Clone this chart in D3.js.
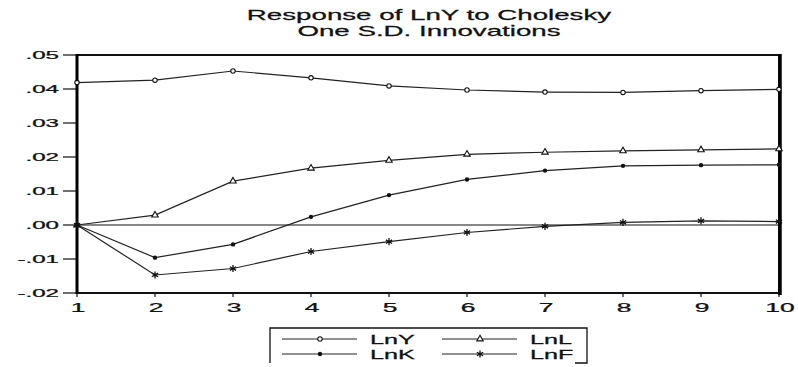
<!DOCTYPE html>
<html>
<head>
<meta charset="utf-8">
<script src="https://cdn.jsdelivr.net/npm/d3@7"></script>
<style>
  body { margin: 0; background: #fff; }
  text { font-family: "Liberation Sans", Arial, sans-serif; fill: #111; stroke: #111; stroke-width: 0.25px; }
</style>
</head>
<body>
<svg id="chart" width="798" height="367"></svg>
<script>
// periods and responses
const periods = [1, 2, 3, 4, 5, 6, 7, 8, 9, 10];
const lnY = [0.0419, 0.0426, 0.0453, 0.0433, 0.0409, 0.0397, 0.0391, 0.0390, 0.0395, 0.0399];
const lnL = [0.0000, 0.0029, 0.0129, 0.0167, 0.0190, 0.0208, 0.0214, 0.0218, 0.0221, 0.0224];
const lnK = [0.0000, -0.0096, -0.0057, 0.0024, 0.0088, 0.0134, 0.0160, 0.0174, 0.0176, 0.0177];
const lnF = [0.0000, -0.0147, -0.0128, -0.0078, -0.0049, -0.0022, -0.0004, 0.0008, 0.0012, 0.0010];
const yTicks = [0.05, 0.04, 0.03, 0.02, 0.01, 0, -0.01, -0.02];
const titleLines = ['Response of LnY to Cholesky', 'One S.D. Innovations'];

const series = [
  {name: 'LnY', values: lnY, marker: 'openCircle'},
  {name: 'LnL', values: lnL, marker: 'triangle'},
  {name: 'LnK', values: lnK, marker: 'dot'},
  {name: 'LnF', values: lnF, marker: 'star'},
];

const svg = d3.select('#chart');
const plot = {left: 77, right: 779, top: 55, bottom: 293};

const x = d3.scaleLinear().domain([1, 10]).range([plot.left, plot.right]);
const y = d3.scaleLinear().domain([-0.02, 0.05]).range([plot.bottom, plot.top]);

// the original has wide, stretched lettering
function stretchedText(g, str, px, py, size, sx, anchor) {
  g.append('g')
    .attr('transform', `translate(${px},${py}) scale(${sx},1)`)
    .append('text')
      .attr('font-size', size)
      .attr('text-anchor', anchor)
      .text(str);
}

titleLines.forEach((t, i) => stretchedText(svg, t, 429, 20 + i * 16, 14, 1.98, 'middle'));

const fmt = v => v === 0 ? '.00' : (v < 0 ? '-' : '') + d3.format('.2f')(Math.abs(v)).replace(/^0/, '');

// y ticks + labels
const yAxis = svg.append('g');
yTicks.forEach(v => {
  yAxis.append('line')
    .attr('x1', plot.left - 14).attr('x2', plot.left)
    .attr('y1', y(v)).attr('y2', y(v))
    .attr('stroke', '#111').attr('stroke-width', 1.2);
  stretchedText(yAxis, fmt(v), plot.left - 18, y(v) + 4, 10.5, 2.3, 'end');
});

// x ticks + labels
const xAxis = svg.append('g');
periods.forEach(p => {
  xAxis.append('line')
    .attr('x1', x(p)).attr('x2', x(p))
    .attr('y1', plot.bottom).attr('y2', plot.bottom + 4)
    .attr('stroke', '#111').attr('stroke-width', 1.2);
  stretchedText(xAxis, String(p), x(p) + 1, plot.bottom + 19, 12, 2.2, 'middle');
});

// zero line
svg.append('line')
  .attr('x1', plot.left).attr('x2', plot.right)
  .attr('y1', y(0)).attr('y2', y(0))
  .attr('stroke', '#111').attr('stroke-width', 1);

// frame
svg.append('rect')
  .attr('x', plot.left).attr('y', plot.top)
  .attr('width', plot.right - plot.left).attr('height', plot.bottom - plot.top)
  .attr('fill', 'none').attr('stroke', '#111').attr('stroke-width', 2);
svg.append('line')
  .attr('x1', plot.left).attr('x2', plot.left)
  .attr('y1', plot.top - 1).attr('y2', plot.bottom + 1)
  .attr('stroke', '#000').attr('stroke-width', 3);
svg.append('line')
  .attr('x1', plot.right + 1).attr('x2', plot.right + 1)
  .attr('y1', plot.top - 1).attr('y2', plot.bottom + 2)
  .attr('stroke', '#000').attr('stroke-width', 3.5);

function drawMarker(g, kind, cx, cy) {
  if (kind === 'openCircle')
    g.append('circle').attr('cx', cx).attr('cy', cy).attr('r', 2.2)
      .attr('fill', '#fff').attr('stroke', '#111').attr('stroke-width', 1.1);
  else if (kind === 'dot')
    g.append('circle').attr('cx', cx).attr('cy', cy).attr('r', 2.2).attr('fill', '#111');
  else if (kind === 'triangle')
    g.append('path').attr('transform', `translate(${cx},${cy})`)
      .attr('d', d3.symbol(d3.symbolTriangle, 18)())
      .attr('fill', '#fff').attr('stroke', '#111').attr('stroke-width', 1.1);
  else
    g.append('path').attr('transform', `translate(${cx},${cy})`)
      .attr('d', d3.symbol(d3.symbolAsterisk, 36)())
      .attr('fill', 'none').attr('stroke', '#111').attr('stroke-width', 1.3);
}

const line = d3.line().x((d, i) => x(periods[i])).y(d => y(d));

series.forEach(s => {
  const g = svg.append('g');
  g.append('path')
    .attr('d', line(s.values))
    .attr('fill', 'none').attr('stroke', '#222').attr('stroke-width', 1.2);
  s.values.forEach((v, i) => drawMarker(g, s.marker, x(periods[i]), y(v)));
});

// legend
const legend = svg.append('g');
const lg = {left: 270, top: 328, right: 587, bottom: 363};
legend.append('path')
  .attr('d', `M${lg.left},${lg.bottom} V${lg.top} H${lg.right} V${lg.bottom} H${lg.right - 12}`)
  .attr('fill', 'none').attr('stroke', '#111').attr('stroke-width', 1.3);
const legendOrder = [
  {s: series[0], col: 0, row: 0}, {s: series[1], col: 1, row: 0},
  {s: series[2], col: 0, row: 1}, {s: series[3], col: 1, row: 1},
];
legendOrder.forEach(({s, col, row}) => {
  const lx = col === 0 ? 282 : 442;
  const ly = row === 0 ? 339 : 354;
  legend.append('line')
    .attr('x1', lx).attr('x2', lx + 75).attr('y1', ly).attr('y2', ly)
    .attr('stroke', '#222').attr('stroke-width', 1.2);
  drawMarker(legend, s.marker, lx + 38, ly);
  stretchedText(legend, s.name, lx + 88, ly + 5, 12, 2.1, 'start');
});
</script>
</body>
</html>
